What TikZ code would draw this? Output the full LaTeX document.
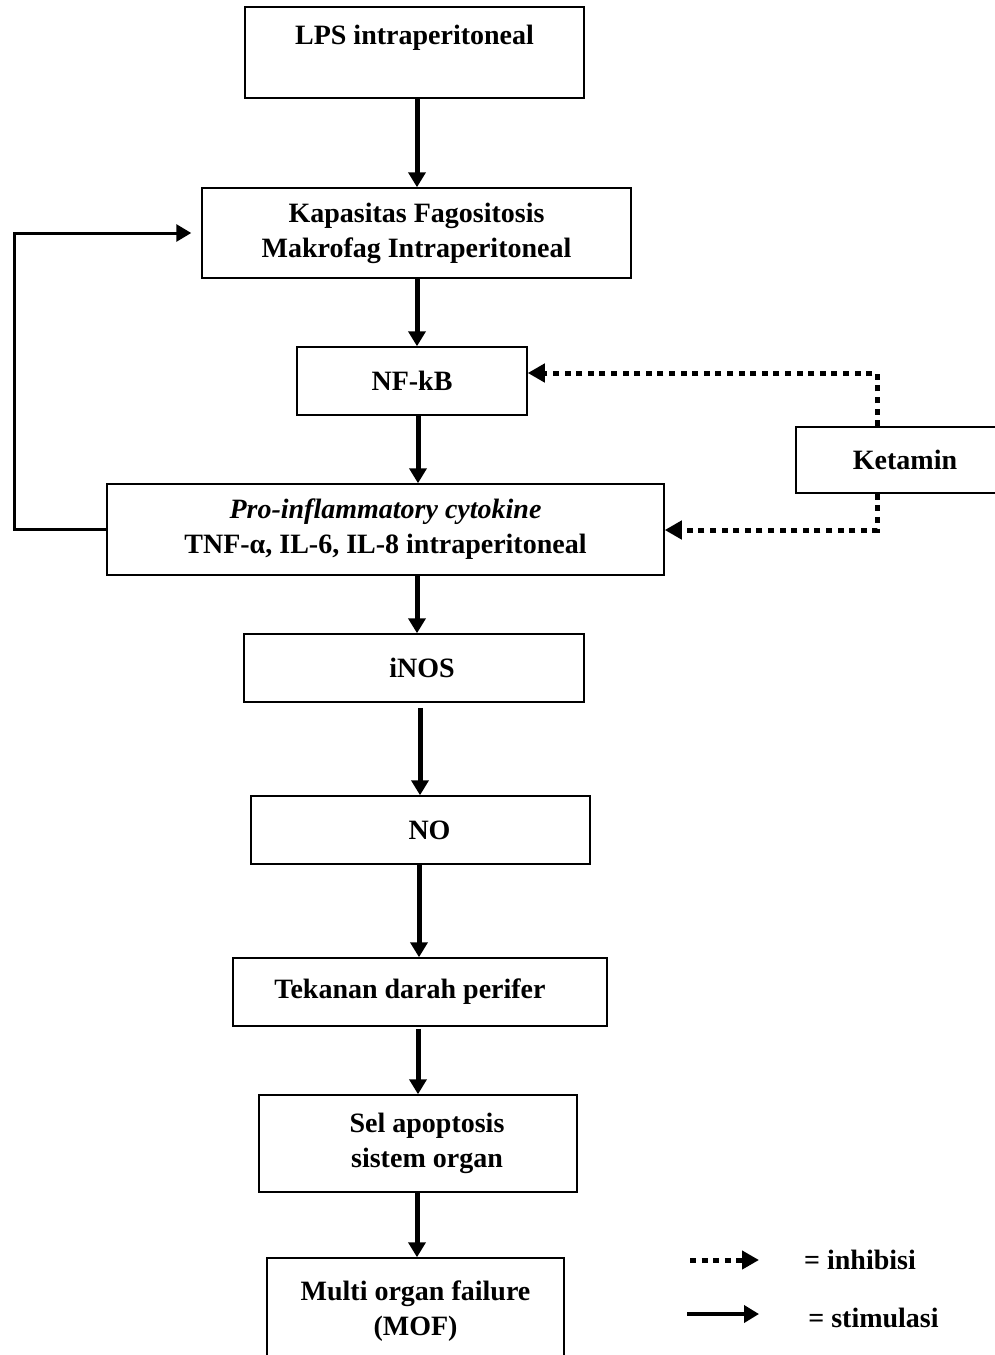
\documentclass[tikz,border=0pt]{standalone}
\usepackage{fontspec}
\setmainfont{Liberation Serif}
\usetikzlibrary{arrows.meta}

\begin{document}
\begin{tikzpicture}[x=0.5pt, y=-0.5pt, line join=miter, font=\fontsize{14}{17.5}\selectfont\bfseries, >={Triangle[length=7.5pt, width=8.5pt]}]
	\tikzset{box/.style={draw, line width=0.75pt, align=center, inner sep=0pt}}
	\tikzset{stim/.style={->, line width=2.5pt}}
	\tikzset{inhib/.style={-{Triangle[length=8.5pt, width=9pt]}, line width=2.5pt, dash pattern=on 3pt off 2.8pt}}
	\useasboundingbox (0,0) rectangle (995,1355);
	% boxes
	\node[box, minimum width=169.5pt, minimum height=45.5pt] (lps) at (414.5,52.5) {LPS intraperitoneal\\ \mbox{}};
	\node[box, minimum width=214.5pt, minimum height=45pt] (kap) at (416.5,233) {Kapasitas Fagositosis\\Makrofag Intraperitoneal};
	\node[box, minimum width=115pt, minimum height=34pt] (nfkb) at (412,381) {NF-kB};
	\node[box, minimum width=109pt, minimum height=33pt] (ket) at (905,460) {Ketamin};
	\node[box, minimum width=278.5pt, minimum height=45.5pt] (pro) at (385.5,529.5) {{\itshape Pro-inflammatory cytokine}\\TNF-α, IL-6, IL-8 intraperitoneal};
	\node[box, minimum width=170pt, minimum height=34pt] (inos) at (414,668) {\hspace*{8pt}iNOS};
	\node[box, minimum width=169.5pt, minimum height=34pt] (no) at (420.5,830) {\hspace*{9pt}NO};
	\node[box, minimum width=187pt, minimum height=34pt] (tek) at (420,992) {Tekanan darah perifer\hspace*{10pt}};
	\node[box, minimum width=159pt, minimum height=48.5pt] (sel) at (418,1143.5) {\hspace*{9pt}Sel apoptosis\\\hspace*{9pt}sistem organ};
	\node[box, minimum width=148.5pt, minimum height=53pt] (mof) at (415.5,1311) {Multi organ failure\\(MOF)};
	% stimulasi
	\draw[stim] (lps.south -| 417,0) -- (kap.north -| 417,0);
	\draw[stim] (kap.south -| 417,0) -- (nfkb.north -| 417,0);
	\draw[stim] (nfkb.south -| 418,0) -- (pro.north -| 418,0);
	\draw[stim] (pro.south -| 417,0) -- (inos.north -| 417,0);
	\draw[stim] (inos.south -| 420,0) ++(0,5) -- (no.north -| 420,0);
	\draw[stim] (no.south -| 419,0) -- (tek.north -| 419,0);
	\draw[stim] (tek.south -| 418,0) ++(0,2) -- (sel.north -| 418,0);
	\draw[stim] (sel.south -| 417,0) -- (mof.north -| 417,0);
	% umpan balik
	\coordinate (fb) at (14,529.5);
	\draw[stim, line width=1.5pt, shorten >=5pt] (pro.west) -- (fb) |- (kap.west);
	% inhibisi
	\coordinate (kt) at (877,373);
	\coordinate (kb) at (877,530);
	\draw[inhib] (ket.north -| kt) -- (kt) -- (kt -| nfkb.east);
	\draw[inhib] (ket.south -| kb) -- (kb) -- (kb -| pro.east);
	% keterangan
	\coordinate (li0) at (690,1260);
	\coordinate (li1) at (759,1260);
	\coordinate (ls0) at (687,1314);
	\coordinate (ls1) at (759,1314);
	\draw[inhib] (li0) -- (li1);
	\draw[stim, line width=2pt] (ls0) -- (ls1);
	\node (inh) at (860,1260) {= inhibisi};
	\node (sti) at (873.5,1318) {= stimulasi};
\end{tikzpicture}
\end{document}
